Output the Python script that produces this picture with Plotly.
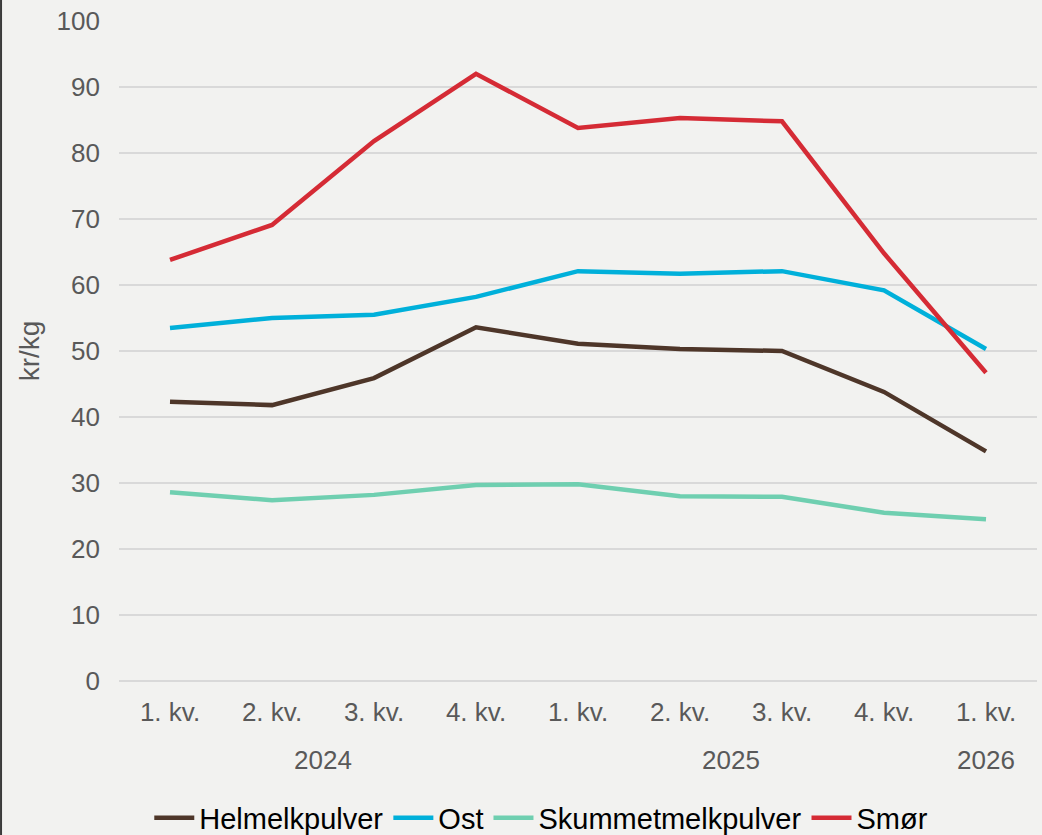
import plotly.graph_objects as go

quarters = ["1. kv.", "2. kv.", "3. kv.", "4. kv.", "1. kv.", "2. kv.", "3. kv.", "4. kv.", "1. kv."]
years = ["2024", "2025", "2026"]
year_pos = [1.5, 5.5, 8]

helmelkpulver = [42.3, 41.8, 45.9, 53.6, 51.1, 50.3, 50.0, 43.8, 34.8]
ost = [53.5, 55.0, 55.5, 58.2, 62.1, 61.7, 62.1, 59.2, 50.3]
skummetmelkpulver = [28.6, 27.4, 28.2, 29.7, 29.8, 28.0, 27.9, 25.5, 24.5]
smor = [63.8, 69.1, 81.8, 92.0, 83.8, 85.3, 84.8, 64.8, 46.7]

series = [
    ("Helmelkpulver", helmelkpulver, "#4e3629"),
    ("Ost", ost, "#00b0da"),
    ("Skummetmelkpulver", skummetmelkpulver, "#6fcfb0"),
    ("Smør", smor, "#d52b35"),
]

x = list(range(len(quarters)))
fig = go.Figure()
for name, vals, col in series:
    fig.add_trace(go.Scatter(x=x, y=vals, name=name, mode="lines",
                             line=dict(color=col, width=4.5)))

font_family = "Liberation Sans, Arial, sans-serif"
for yr, pos in zip(years, year_pos):
    fig.add_annotation(x=pos, y=-0.12, xref="x", yref="paper", text=yr,
                       showarrow=False, font=dict(size=26, color="#595959", family=font_family),
                       yanchor="middle")

fig.add_shape(type="line", xref="paper", yref="paper",
              x0=-0.1285, x1=-0.1285, y0=-0.25, y1=1.04,
              line=dict(color="#3a3a3a", width=2))

fig.update_layout(
    width=1042, height=835,
    margin=dict(l=119, r=5, t=21, b=154),
    paper_bgcolor="#f2f2f0", plot_bgcolor="#f2f2f0",
    font=dict(family=font_family, color="#595959", size=26),
    showlegend=True,
    legend=dict(orientation="h", x=0.46, xanchor="center",
                yref="container", y=0.0204, yanchor="middle",
                font=dict(size=29, color="#000000"), itemwidth=40, tracegroupgap=0),
    xaxis=dict(tickmode="array", tickvals=x, ticktext=quarters, range=[-0.5, 8.5],
               showgrid=False, zeroline=False, showline=False, ticks="",
               ticklabelstandoff=13, automargin=False,
               tickfont=dict(size=26, color="#595959")),
    yaxis=dict(range=[0, 100], dtick=10, showgrid=True, gridcolor="#d9d9d9", gridwidth=1.5,
               zeroline=True, zerolinecolor="#d9d9d9", zerolinewidth=1.5,
               showline=False, ticks="", ticklabelstandoff=18, automargin=False,
               tickfont=dict(size=26, color="#595959"),
               title=dict(text="kr/kg", font=dict(size=28, color="#595959"), standoff=8)),
)

fig.write_html("out.html", config={"displayModeBar": False},
               post_script="document.body.style.margin='0';")
